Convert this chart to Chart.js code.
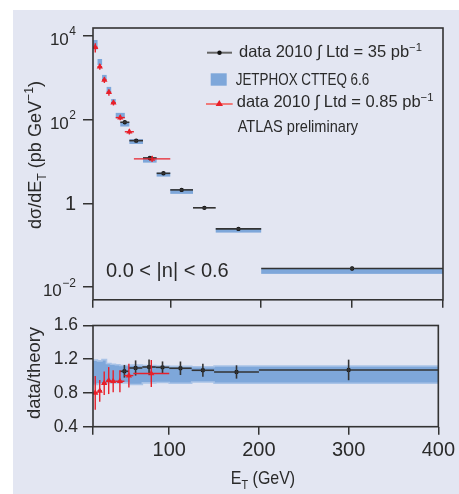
<!DOCTYPE html>
<html>
<head>
<meta charset="utf-8">
<script src="https://cdn.jsdelivr.net/npm/chart.js@4.4.1/dist/chart.umd.min.js"></script>
<style>
body { margin: 0; background: #fff; width: 459px; height: 494px; position: relative; overflow: hidden; }
#bg { position: absolute; left: 13px; top: 10px; right: 0; bottom: 0; background: #e3e6f2; }
#topBox { position: absolute; left: 0; top: 0; width: 459px; height: 310px; }
#botBox { position: absolute; left: 0; top: 310px; width: 459px; height: 184px; }
</style>
</head>
<body>
<div id="bg"></div>
<div id="topBox"><canvas id="xsecChart"></canvas></div>
<div id="botBox"><canvas id="ratioChart"></canvas></div>
<script>
// data 2010, 35 pb-1 (black points)
const blackLo = [45, 55, 70, 85, 100, 125, 150, 200];
const blackHi = [55, 70, 85, 100, 125, 150, 200, 400];
const blackEt = [50, 62.5, 77.5, 92.5, 112.5, 137.5, 175, 300];
const blackXsec = [86, 31.3, 12.1, 5.2, 2.09, 0.78, 0.245, 0.0277];
const blackRatio = [1.057, 1.096, 1.108, 1.104, 1.093, 1.069, 1.049, 1.073];
const blackRatioErr = [0.075, 0.09, 0.09, 0.07, 0.08, 0.077, 0.079, 0.122];

// data 2010, 0.85 pb-1 (red triangles)
const redLo = [15, 20, 25, 30, 35, 40, 50, 60];
const redHi = [20, 25, 30, 35, 40, 50, 60, 100];
const redEt = [17.5, 22.5, 27.5, 32.5, 37.5, 45, 55, 80];
const redXsec = [5300, 1820, 877, 447, 251, 111, 51, 11.5];
const redRatio = [0.80, 0.825, 0.916, 0.947, 0.939, 0.939, 1.006, 1.03];
const redRatioErr = [0.2, 0.13, 0.14, 0.16, 0.13, 0.13, 0.14, 0.16];

// JETPHOX CTEQ 6.6 boxes (top panel)
const theoryLo = [15, 20, 25, 30, 35, 40, 45, 55, 70, 85, 100, 150, 200];
const theoryHi = [20, 25, 30, 35, 40, 50, 55, 70, 85, 100, 125, 200, 400];
const theoryMin = [4700, 2000, 880, 447, 235, 107, 68, 26.1, 9.35, 4.34, 1.68, 0.2, 0.0207];
const theoryMax = [7900, 2780, 1160, 600, 309, 144, 86, 33.8, 12.3, 5.4, 2.17, 0.255, 0.0273];

// theory uncertainty band (ratio panel)
const bandEdges = [15, 20, 25, 30, 35, 40, 45, 55, 70, 85, 100, 125, 150, 200, 400];
const bandLow = [0.90, 0.90, 0.91, 0.91, 0.92, 0.92, 0.92, 0.92, 0.90, 0.92, 0.925, 0.915, 0.93, 0.915];
const bandHigh = [1.20, 1.19, 1.18, 1.195, 1.15, 1.14, 1.135, 1.125, 1.13, 1.125, 1.12, 1.115, 1.11, 1.12];

const xTicks = [15, 100, 200, 300, 400];
const logTicks = [-2, 0, 2, 4];
const ratioTicks = [0.4, 0.8, 1.2, 1.6];

const TEXT = "#2a2a2a";
const BLUE = "#7ea7da";
const BLUE_LIGHT = "#a9c3e7";
const RED = "#e8202a";
const SANS = "'Liberation Sans', Arial, sans-serif";

// text with sub/superscripts: parts = [[text, kind]], kind 1 = sup, -1 = sub
// sx squeezes the text horizontally (the original face has narrow capitals)
function drawRich(ctx, parts, x, y, size, align, sx) {
    sx = sx || 1;
    const small = size * 0.68;
    const fontOf = (k) => (k ? small : size) + "px " + SANS;
    let w = 0;
    parts.forEach(([t, k]) => { ctx.font = fontOf(k); w += ctx.measureText(t).width; });
    w *= sx;
    const x0 = align === "center" ? x - w / 2 : align === "right" ? x - w : x;
    ctx.save();
    ctx.translate(x0, y);
    ctx.scale(sx, 1);
    ctx.textAlign = "left";
    ctx.textBaseline = "alphabetic";
    let cx = 0;
    parts.forEach(([t, k]) => {
        ctx.font = fontOf(k);
        const dy = k === 1 ? -size * 0.4 : k === -1 ? size * 0.28 : 0;
        ctx.fillText(t, cx, dy);
        cx += ctx.measureText(t).width;
    });
    ctx.restore();
}

function hbar(ctx, xs, y, x0, x1) {
    ctx.beginPath();
    ctx.moveTo(xs.getPixelForValue(x0), y);
    ctx.lineTo(xs.getPixelForValue(x1), y);
    ctx.stroke();
}

function vbar(ctx, x, ys, y0, y1) {
    ctx.beginPath();
    ctx.moveTo(x, ys.getPixelForValue(y0));
    ctx.lineTo(x, ys.getPixelForValue(y1));
    ctx.stroke();
}

// frame around the plot area
const framePlugin = {
    id: "frame",
    afterDraw(chart) {
        const { ctx, chartArea: a } = chart;
        ctx.save();
        ctx.strokeStyle = "#333";
        ctx.lineWidth = 1.6;
        ctx.strokeRect(a.left, a.top, a.right - a.left, a.bottom - a.top);
        ctx.restore();
    },
};

const axisCommon = {
    grid: { drawOnChartArea: false, drawTicks: true, color: "#333", lineWidth: 1.5 },
    border: { display: false },
};

// ---------- top panel ----------
const xsecPlugin = {
    id: "xsecExtras",
    beforeDatasetsDraw(chart) {
        const { ctx } = chart;
        const xs = chart.scales.x, ys = chart.scales.y;
        ctx.save();
        ctx.fillStyle = BLUE;
        theoryLo.forEach((lo, i) => {
            const l = xs.getPixelForValue(lo), r = xs.getPixelForValue(theoryHi[i]);
            const t = ys.getPixelForValue(theoryMax[i]), b = ys.getPixelForValue(theoryMin[i]);
            ctx.fillRect(l, t, r - l, b - t);
        });
        ctx.restore();
    },
    afterDatasetsDraw(chart) {
        const { ctx } = chart;
        const xs = chart.scales.x, ys = chart.scales.y;
        ctx.save();
        ctx.lineWidth = 1.6;
        ctx.strokeStyle = "#333";
        blackEt.forEach((x, i) => {
            const py = ys.getPixelForValue(blackXsec[i]);
            hbar(ctx, xs, py, blackLo[i], blackHi[i]);
            const rel = blackRatioErr[i] / blackRatio[i];
            vbar(ctx, xs.getPixelForValue(x), ys, blackXsec[i] * (1 - rel), blackXsec[i] * (1 + rel));
        });
        ctx.strokeStyle = RED;
        ctx.lineWidth = 1.4;
        redEt.forEach((x, i) => {
            const py = ys.getPixelForValue(redXsec[i]);
            hbar(ctx, xs, py, redLo[i], redHi[i]);
            const rel = redRatioErr[i] / redRatio[i];
            vbar(ctx, xs.getPixelForValue(x), ys, redXsec[i] * (1 - rel), redXsec[i] * (1 + rel));
        });
        ctx.restore();
    },
    afterDraw(chart) {
        const { ctx } = chart;
        const ys = chart.scales.y;
        ctx.save();
        ctx.fillStyle = TEXT;
        // log tick labels
        logTicks.forEach((e) => {
            const py = ys.getPixelForValue(Math.pow(10, e));
            if (e === 0) {
                ctx.font = "20px " + SANS;
                ctx.textAlign = "right";
                ctx.textBaseline = "alphabetic";
                ctx.fillText("1", 76, py + 7);
                return;
            }
            const sup = e < 0 ? "\u2212" + Math.abs(e) : String(e);
            ctx.font = "12px " + SANS;
            const sw = ctx.measureText(sup).width;
            ctx.textAlign = "left";
            ctx.textBaseline = "alphabetic";
            ctx.fillText(sup, 76 - sw, py - 0.5);
            ctx.font = "17px " + SANS;
            ctx.textAlign = "right";
            ctx.fillText("10", 76 - sw - 0.5, py + 9);
        });
        // y title
        ctx.save();
        ctx.translate(41, 155);
        ctx.rotate(-Math.PI / 2);
        drawRich(ctx, [["d\u03c3/dE", 0], ["T", -1], [" (pb GeV", 0], ["\u22121", 1], [")", 0]], 0, 0, 19, "center", 0.95);
        ctx.restore();
        // region label
        ctx.font = "20px " + SANS;
        ctx.textAlign = "left";
        ctx.fillText("0.0 < |n| < 0.6", 106, 277);
        // legend
        ctx.strokeStyle = "#666";
        ctx.lineWidth = 2;
        ctx.beginPath(); ctx.moveTo(207, 52.7); ctx.lineTo(232, 52.7); ctx.stroke();
        ctx.fillStyle = "#111";
        ctx.beginPath(); ctx.arc(219.5, 52.7, 2.2, 0, Math.PI * 2); ctx.fill();
        ctx.fillStyle = TEXT;
        drawRich(ctx, [["data 2010 \u222b Ltd = 35 pb", 0], ["\u22121", 1]], 239, 57.3, 16.5, "left");
        ctx.fillStyle = BLUE;
        ctx.fillRect(210.7, 73.3, 16, 12.4);
        ctx.fillStyle = TEXT;
        drawRich(ctx, [["JETPHOX CTTEQ 6.6", 0]], 235.7, 85, 17, "left", 0.79);
        ctx.strokeStyle = "#f07a7a";
        ctx.beginPath(); ctx.moveTo(206, 104); ctx.lineTo(232.7, 104); ctx.stroke();
        ctx.fillStyle = RED;
        ctx.beginPath(); ctx.moveTo(219.3, 100); ctx.lineTo(223, 106); ctx.lineTo(215.6, 106); ctx.closePath(); ctx.fill();
        ctx.fillStyle = TEXT;
        drawRich(ctx, [["data 2010 \u222b Ltd = 0.85 pb", 0], ["\u22121", 1]], 236.7, 107.3, 16.5, "left");
        drawRich(ctx, [["ATLAS preliminary", 0]], 237.7, 131.7, 16.2, "left", 0.9);
        ctx.restore();
    },
};

new Chart(document.getElementById("xsecChart"), {
    type: "scatter",
    data: {
        datasets: [
            {
                label: "data 2010 35 pb-1",
                data: blackEt.map((x, i) => ({ x: x, y: blackXsec[i] })),
                pointStyle: "circle",
                pointRadius: 2.2,
                backgroundColor: "#111",
                borderWidth: 0,
            },
            {
                label: "data 2010 0.85 pb-1",
                data: redEt.map((x, i) => ({ x: x, y: redXsec[i] })),
                pointStyle: "triangle",
                pointRadius: 3.6,
                backgroundColor: RED,
                borderColor: RED,
                borderWidth: 0,
            },
        ],
    },
    options: {
        responsive: true,
        maintainAspectRatio: false,
        animation: false,
        layout: { padding: { top: 28, right: 16, left: 0, bottom: 0 } },
        plugins: { legend: { display: false }, tooltip: { enabled: false } },
        scales: {
            x: {
                type: "linear",
                min: 15,
                max: 400,
                afterBuildTicks: (s) => { s.ticks = xTicks.map((v) => ({ value: v })); },
                afterFit: (s) => { s.height = 10; },
                ticks: { callback: () => "" },
                ...axisCommon,
                grid: { ...axisCommon.grid, tickLength: 8 },
            },
            y: {
                type: "logarithmic",
                min: Math.pow(10, -2.303),
                max: Math.pow(10, 4.184),
                afterBuildTicks: (s) => { s.ticks = logTicks.map((e) => ({ value: Math.pow(10, e) })); },
                afterFit: (s) => { s.width = 93; },
                ticks: { callback: () => "" },
                ...axisCommon,
                grid: { ...axisCommon.grid, tickLength: 10 },
            },
        },
    },
    plugins: [xsecPlugin, framePlugin],
});

// ---------- ratio panel ----------
const ratioPlugin = {
    id: "ratioExtras",
    afterDatasetsDraw(chart) {
        const { ctx } = chart;
        const xs = chart.scales.x, ys = chart.scales.y;
        ctx.save();
        ctx.lineWidth = 1.6;
        ctx.strokeStyle = "#333";
        blackEt.forEach((x, i) => {
            hbar(ctx, xs, ys.getPixelForValue(blackRatio[i]), blackLo[i], blackHi[i]);
            vbar(ctx, xs.getPixelForValue(x), ys, blackRatio[i] - blackRatioErr[i], blackRatio[i] + blackRatioErr[i]);
        });
        ctx.strokeStyle = RED;
        ctx.lineWidth = 1.4;
        redEt.forEach((x, i) => {
            hbar(ctx, xs, ys.getPixelForValue(redRatio[i]), redLo[i], redHi[i]);
            vbar(ctx, xs.getPixelForValue(x), ys, redRatio[i] - redRatioErr[i], redRatio[i] + redRatioErr[i]);
        });
        ctx.restore();
    },
    afterDraw(chart) {
        const { ctx } = chart;
        ctx.save();
        ctx.fillStyle = TEXT;
        ctx.save();
        ctx.translate(40, 63);
        ctx.rotate(-Math.PI / 2);
        drawRich(ctx, [["data/theory", 0]], 0, 0, 18.4, "center");
        ctx.restore();
        drawRich(ctx, [["E", 0], ["T", -1], [" (GeV)", 0]], 263, 174, 19, "center", 0.84);
        ctx.restore();
    },
};

const bandPoints = (vals) => bandEdges.map((x, i) => ({ x: x, y: vals[Math.min(i, vals.length - 1)] }));

new Chart(document.getElementById("ratioChart"), {
    type: "scatter",
    data: {
        datasets: [
            {
                type: "line",
                label: "band low",
                data: bandPoints(bandLow),
                stepped: "after",
                borderColor: BLUE_LIGHT,
                borderWidth: 1.6,
                pointRadius: 0,
                fill: false,
                order: 10,
            },
            {
                type: "line",
                label: "JETPHOX CTTEQ 6.6",
                data: bandPoints(bandHigh),
                stepped: "after",
                borderColor: BLUE_LIGHT,
                borderWidth: 1.6,
                pointRadius: 0,
                backgroundColor: BLUE,
                fill: "-1",
                order: 10,
            },
            {
                label: "data 2010 35 pb-1",
                data: blackEt.map((x, i) => ({ x: x, y: blackRatio[i] })),
                pointStyle: "circle",
                pointRadius: 2.2,
                backgroundColor: "#111",
                borderWidth: 0,
                order: 0,
            },
            {
                label: "data 2010 0.85 pb-1",
                data: redEt.map((x, i) => ({ x: x, y: redRatio[i] })),
                pointStyle: "triangle",
                pointRadius: 3.6,
                backgroundColor: RED,
                borderWidth: 0,
                order: 0,
            },
        ],
    },
    options: {
        responsive: true,
        maintainAspectRatio: false,
        animation: false,
        layout: { padding: { top: 15, right: 16, left: 0, bottom: 0 } },
        plugins: { legend: { display: false }, tooltip: { enabled: false } },
        scales: {
            x: {
                type: "linear",
                min: 15,
                max: 400,
                afterBuildTicks: (s) => { s.ticks = xTicks.map((v) => ({ value: v })); },
                afterFit: (s) => { s.height = 67.3; },
                ticks: {
                    callback: (v) => (v === 15 ? "" : v),
                    font: { family: SANS, size: 20 },
                    color: TEXT,
                    padding: 4,
                    maxRotation: 0,
                    autoSkip: false,
                },
                ...axisCommon,
                grid: { ...axisCommon.grid, tickLength: 8 },
            },
            y: {
                type: "linear",
                min: 0.4,
                max: 1.6,
                afterBuildTicks: (s) => { s.ticks = ratioTicks.map((v) => ({ value: v })); },
                afterFit: (s) => { s.width = 93; },
                ticks: {
                    callback: (v) => v.toFixed(1),
                    font: { family: SANS, size: 17.5 },
                    color: TEXT,
                    padding: 5,
                },
                ...axisCommon,
                grid: { ...axisCommon.grid, tickLength: 10 },
            },
        },
    },
    plugins: [ratioPlugin, framePlugin],
});
</script>
</body>
</html>
